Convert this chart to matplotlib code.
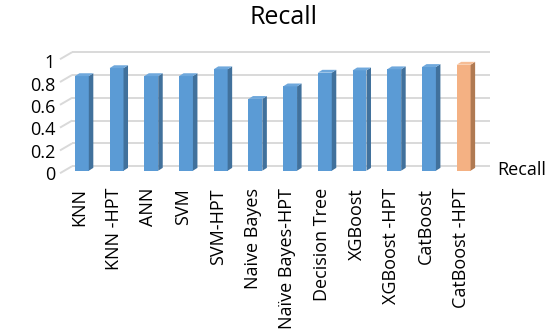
import matplotlib
matplotlib.use("Agg")
import matplotlib.pyplot as plt
from matplotlib.patches import Polygon

plt.rcParams['font.family'] = ['Open Sans', 'DejaVu Sans']

models = ["KNN", "KNN -HPT", "ANN", "SVM", "SVM-HPT", "Naive Bayes",
          "Naïve Bayes-HPT", "Decision Tree", "XGBoost", "XGBoost -HPT",
          "CatBoost", "CatBoost -HPT"]
recall = [0.83, 0.90, 0.83, 0.83, 0.89, 0.63, 0.74, 0.86, 0.88, 0.89, 0.91, 0.93]
y_ticks = [0, 0.2, 0.4, 0.6, 0.8, 1.0]
y_tick_labels = ["0", "0.2", "0.4", "0.6", "0.8", "1"]
series_name = "Recall"

blue_front, blue_side, blue_top = "#5B9BD5", "#41719C", "#6FA8DC"
orange_front, orange_side, orange_top = "#F4B183", "#B07A52", "#F6BD95"

fig = plt.figure(figsize=(5.57, 3.35), dpi=100)
ax = fig.add_axes([0.1158, 0.4904, 0.7478, 0.3403])
ax.set_xlim(-0.5, len(models) - 0.5)
ax.set_ylim(0, 1.0)
ax.axis("off")

# depth offsets of the pseudo-3D look (in data units)
dx, dy = 0.13, 0.025
width = 0.40

# back-wall gridlines with a slanted floor edge on the left
for v in y_ticks:
    yb = v + 0.04
    ax.plot([-0.63, -0.28], [yb - 0.062, yb], color="#D9D9D9", lw=1.4,
            clip_on=False, zorder=1, solid_capstyle="butt")
    ax.plot([-0.28, 11.76], [yb, yb], color="#D9D9D9", lw=1.4,
            clip_on=False, zorder=1, solid_capstyle="butt")

for i, (name, val) in enumerate(zip(models, recall)):
    last = i == len(models) - 1
    fc, sc, tc = ((orange_front, orange_side, orange_top) if last
                  else (blue_front, blue_side, blue_top))
    x0, x1 = i - width / 2, i + width / 2
    ax.bar(i, val, width=width, color=fc, zorder=3, clip_on=False)
    side = Polygon([(x1, 0), (x1 + dx, dy), (x1 + dx, val + dy), (x1, val)],
                   closed=True, facecolor=sc, edgecolor="none", zorder=3,
                   clip_on=False)
    top = Polygon([(x0, val), (x1, val), (x1 + dx, val + dy), (x0 + dx, val + dy)],
                  closed=True, facecolor=tc, edgecolor="none", zorder=3,
                  clip_on=False)
    ax.add_patch(side)
    ax.add_patch(top)
    ax.text(i - 0.08, -0.152, name, rotation=90, ha="center", va="top",
            fontsize=13, color="#000000", clip_on=False)

for v, lab in zip(y_ticks, y_tick_labels):
    ax.text(-0.77, v * 0.98 - 0.038, lab, ha="right", va="center",
            fontsize=13, color="#000000", clip_on=False)

fig.text(284 / 557, 1 - 18 / 335, "Recall", ha="center", va="center",
         fontsize=18, color="#000000")
fig.text(497 / 557, 1 - 170 / 335, series_name, ha="left", va="center",
         fontsize=13, color="#000000")

fig.savefig("out.png", dpi=100)
